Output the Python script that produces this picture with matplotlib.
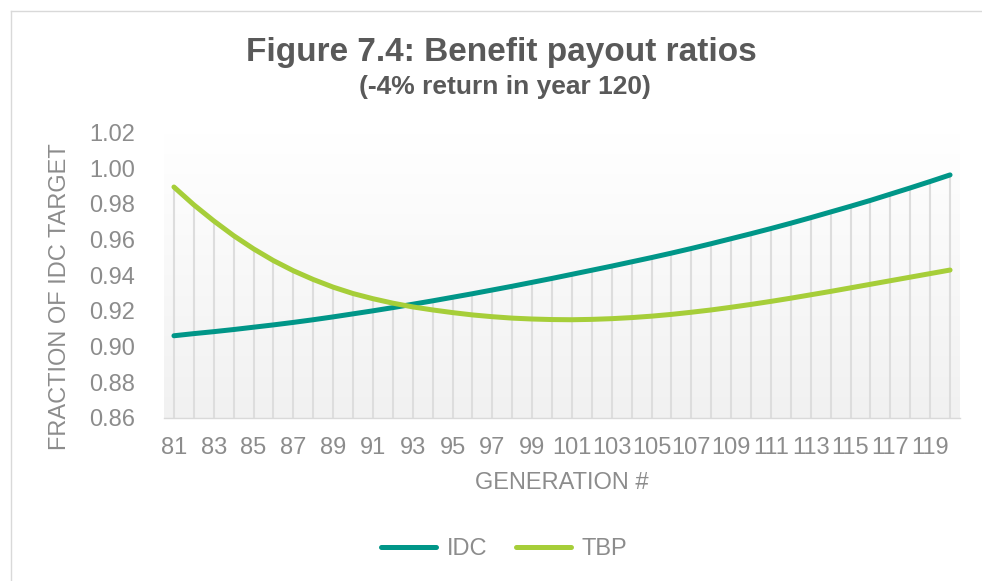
import matplotlib
matplotlib.use('Agg')
import matplotlib.pyplot as plt
from matplotlib.lines import Line2D
import numpy as np

generations = list(range(81, 121))

idc_values = [0.9060, 0.9072, 0.9083, 0.9095, 0.9108, 0.9121, 0.9135, 0.9150,
              0.9166, 0.9183, 0.9200, 0.9218, 0.9237, 0.9256, 0.9276, 0.9296,
              0.9317, 0.9338, 0.9360, 0.9382, 0.9405, 0.9428, 0.9451, 0.9475,
              0.9499, 0.9524, 0.9550, 0.9577, 0.9605, 0.9633, 0.9662, 0.9692,
              0.9723, 0.9755, 0.9787, 0.9820, 0.9855, 0.9890, 0.9926, 0.9963]

tbp_values = [0.9895, 0.9795, 0.9705, 0.9622, 0.9548, 0.9482, 0.9425, 0.9376,
              0.9333, 0.9297, 0.9268, 0.9243, 0.9222, 0.9205, 0.9190, 0.9177,
              0.9167, 0.9159, 0.9154, 0.9151, 0.9150, 0.9152, 0.9156, 0.9162,
              0.9170, 0.9180, 0.9192, 0.9205, 0.9220, 0.9236, 0.9253, 0.9271,
              0.9290, 0.9309, 0.9329, 0.9349, 0.9369, 0.9389, 0.9409, 0.9429]

y_ticks = [0.86, 0.88, 0.90, 0.92, 0.94, 0.96, 0.98, 1.00, 1.02]

title = 'Figure 7.4: Benefit payout ratios'
subtitle = '(-4% return in year 120)'

TEAL = '#009688'
LIME = '#A6CE39'
TEXT_GRAY = '#8C8C8C'
TITLE_GRAY = '#595959'

plt.rcParams['font.family'] = ['Liberation Sans', 'DejaVu Sans']

W, H = 982, 581
fig = plt.figure(figsize=(W / 100, H / 100), dpi=100)
ax = fig.add_axes([164 / W, 1 - 417.7 / H, (960 - 164) / W, (417.7 - 132.7) / H])

# plot area gradient, white at top to light gray at bottom
grad = np.linspace(1.0, 0.945, 256).reshape(-1, 1)
grad_rgb = np.dstack([grad, grad, grad])
ax.imshow(grad_rgb, extent=[0, 1, 0, 1], transform=ax.transAxes,
          aspect='auto', zorder=0)

x_pos = np.arange(len(generations))
tops = np.maximum(idc_values, tbp_values)
ax.vlines(x_pos, y_ticks[0], tops, color='#DDDDDD', lw=1.5, zorder=1)

ax.plot(x_pos, idc_values, color=TEAL, lw=3.6, solid_capstyle='round',
        label='IDC', zorder=3)
ax.plot(x_pos, tbp_values, color=LIME, lw=3.6, solid_capstyle='round',
        label='TBP', zorder=3)

ax.set_xlim(-0.5, len(generations) - 0.5)
ax.set_ylim(y_ticks[0], y_ticks[-1])

ax.set_xticks(x_pos[::2])
ax.set_xticklabels([str(g) for g in generations[::2]])
ax.set_yticks(y_ticks)
ax.set_yticklabels(['%.2f' % v for v in y_ticks])
ax.tick_params(axis='x', length=0, pad=14, labelsize=17, colors=TEXT_GRAY)
ax.tick_params(axis='y', length=0, pad=21, labelsize=17, colors=TEXT_GRAY)

for side in ['top', 'right', 'left']:
    ax.spines[side].set_visible(False)
ax.spines['bottom'].set_color('#D9D9D9')
ax.spines['bottom'].set_linewidth(1.0)

fig.text(501 / W, 1 - 52 / H, title, ha='center', va='center',
         fontsize=24, fontweight='bold', color=TITLE_GRAY)
fig.text(505 / W, 1 - 87 / H, subtitle, ha='center', va='center',
         fontsize=19, fontweight='bold', color=TITLE_GRAY)

fig.text(60 / W, 1 - 297 / H, 'FRACTION OF IDC TARGET', rotation=90,
         ha='center', va='center', fontsize=17, color=TEXT_GRAY)
fig.text(562 / W, 1 - 483 / H, 'GENERATION #', ha='center', va='center',
         fontsize=17, color=TEXT_GRAY)

handles = [Line2D([], [], color=TEAL, lw=3.6, solid_capstyle='round'),
           Line2D([], [], color=LIME, lw=3.6, solid_capstyle='round')]
leg = fig.legend(handles, ['IDC', 'TBP'], loc='center',
                 bbox_to_anchor=(504 / W, 1 - 549 / H), ncol=2, frameon=False,
                 fontsize=17, handlelength=2.33, handletextpad=0.47,
                 columnspacing=1.2)
for txt in leg.get_texts():
    txt.set_color(TEXT_GRAY)

# outer chart border (only top and left edges are in frame)
fig.add_artist(Line2D([11 / W, 1], [1 - 11 / H, 1 - 11 / H],
                      transform=fig.transFigure, color='#D9D9D9', lw=1))
fig.add_artist(Line2D([11 / W, 11 / W], [0, 1 - 11 / H],
                      transform=fig.transFigure, color='#D9D9D9', lw=1))

fig.savefig('out.png', dpi=100)
